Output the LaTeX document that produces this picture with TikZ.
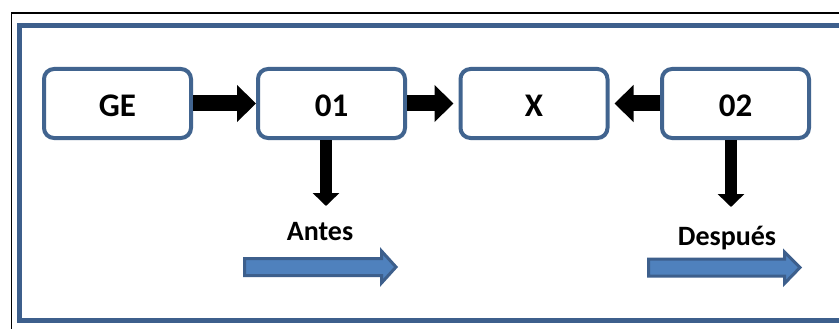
\documentclass[tikz,border=0pt]{standalone}
\usepackage{fontspec}
\setmainfont{Carlito}
\usetikzlibrary{arrows.meta}
\definecolor{frameblue}{HTML}{3D5F8C}
\definecolor{boxblue}{HTML}{41648F}
\definecolor{lightblue}{HTML}{4F81BD}
\tikzset{
  stepbox/.style={draw=boxblue, line width=4pt, rounded corners=10pt, fill=white,
    minimum width=147pt, minimum height=69pt, inner sep=0pt,
    text height=27pt, text depth=0pt,
    font=\fontsize{33}{33}\selectfont\bfseries},
  fatarrow/.style={line width=16pt, -{Triangle[width=36pt,length=19pt]}},
  downarrow/.style={line width=12pt, -{Triangle[width=26pt,length=13pt]}},
  lbl/.style={font=\fontsize{28}{28}\selectfont\bfseries, inner sep=0pt},
  bluearrow/.style={draw=frameblue, fill=lightblue, line width=3pt, line join=miter}
}
\begin{document}
\begin{tikzpicture}[x=1pt,y=-1pt]
\useasboundingbox (0,0) rectangle (839,329);
\clip (0,0) rectangle (839,329);
\fill[white] (0,0) rectangle (839,329);
% outer black frame
\draw[black, line width=1.5pt] (11.5,13) rectangle (860,345);
% blue frame
\draw[frameblue, line width=5pt] (19,25.5) rectangle (860,320.5);
% boxes
\node[stepbox] (ge) at (117.5,103.5) {GE};
\node[stepbox] (o1) at (331.5,103.5) {01};
\node[stepbox] (x)  at (534,103.5) {X};
\node[stepbox] (o2) at (735.5,103.5) {02};
% horizontal arrows
\draw[fatarrow] (ge.east) -- (o1.west);
\draw[fatarrow, shorten >=5pt] (o1.east) -- (x.west);
\draw[fatarrow, shorten >=5pt] (o2.west) -- (x.east);
% down arrows
\coordinate (d1) at (326,206);
\coordinate (d2) at (731,207);
\draw[downarrow] (o1.south -| d1) -- (d1);
\draw[downarrow] (o2.south -| d2) -- (d2);
% labels
\node[lbl] (antes) at (320,232) {Antes};
\node[lbl] (despues) at (727,238) {Después};
% blue arrows
\path[bluearrow] (244.5,258.5) -- (381.5,258.5) -- (381.5,251) -- (396,267) -- (381.5,283) -- (381.5,275.5) -- (244.5,275.5) -- cycle;
\path[bluearrow] (648.5,259) -- (784.5,259) -- (784.5,252) -- (800,267.5) -- (784.5,283.5) -- (784.5,276) -- (648.5,276) -- cycle;
\end{tikzpicture}
\end{document}
